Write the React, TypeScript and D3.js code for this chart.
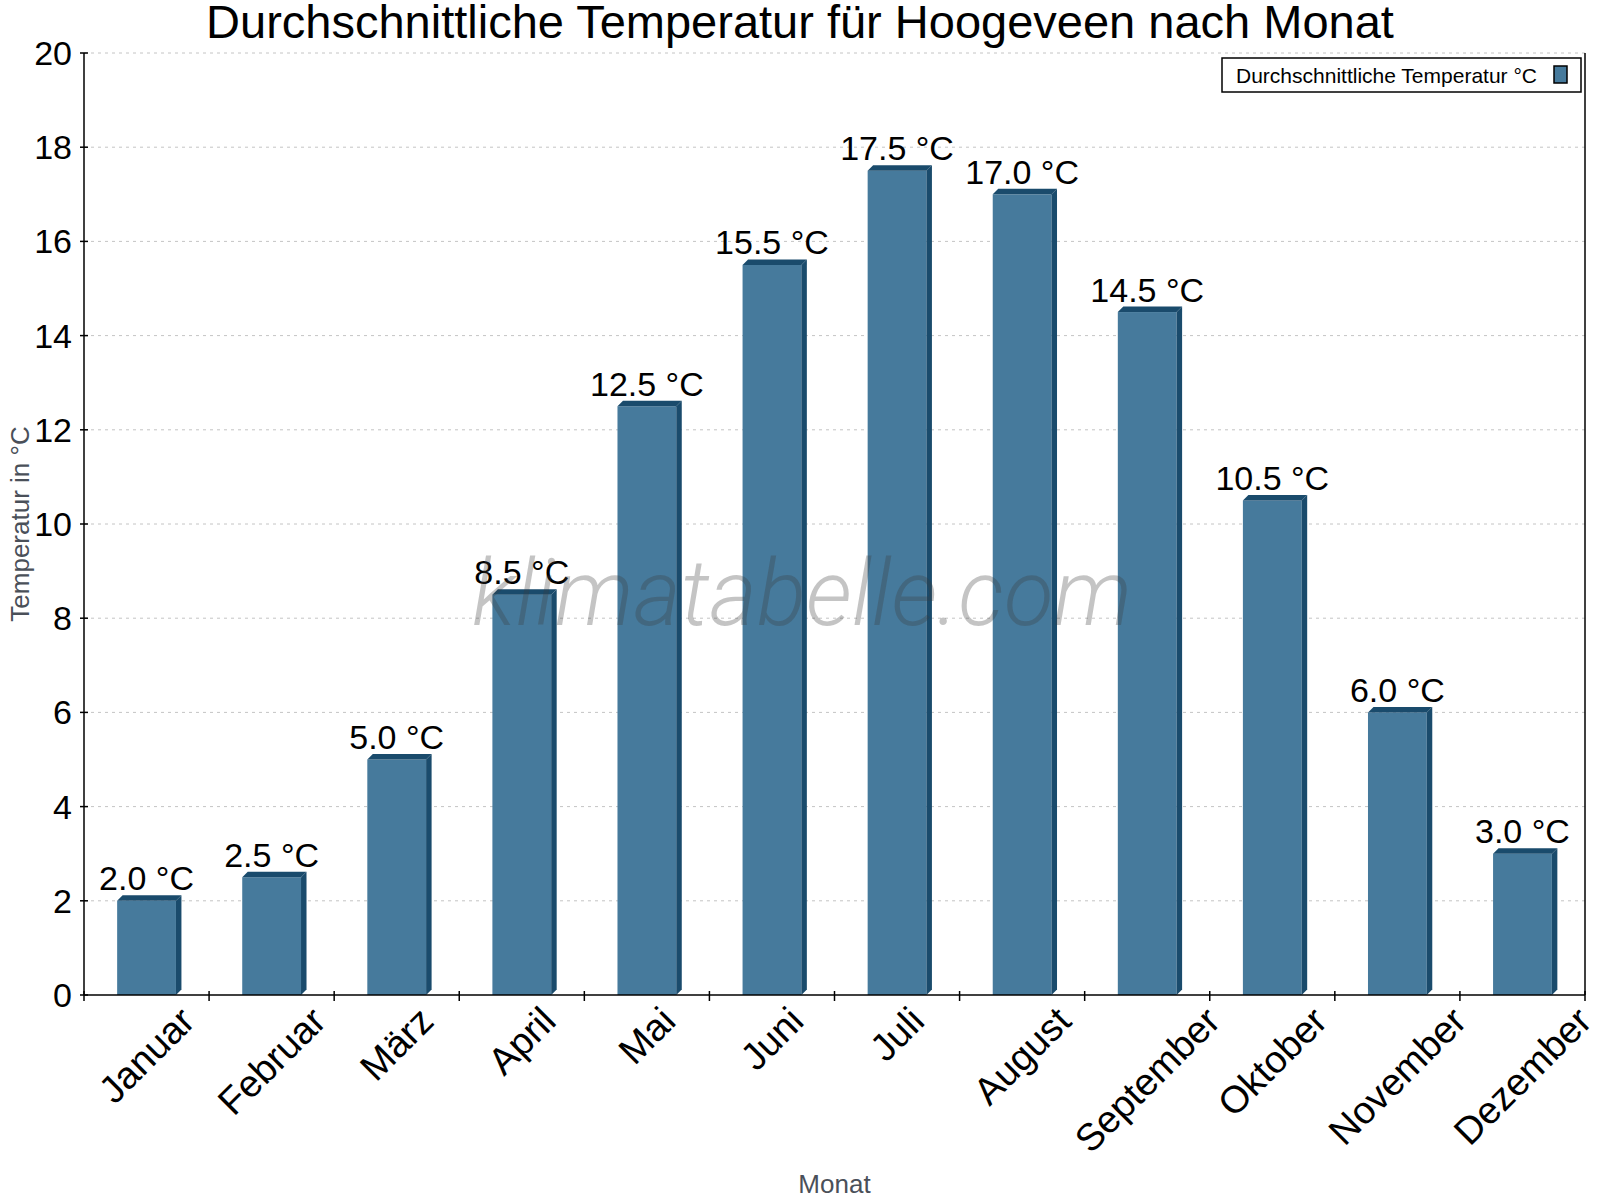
import { useEffect, useRef } from "react";
import * as d3 from "d3";

const months = [
  "Januar", "Februar", "März", "April", "Mai", "Juni",
  "Juli", "August", "September", "Oktober", "November", "Dezember",
];
const temperatures = [2.0, 2.5, 5.0, 8.5, 12.5, 15.5, 17.5, 17.0, 14.5, 10.5, 6.0, 3.0];
const yTicks = [0, 2, 4, 6, 8, 10, 12, 14, 16, 18, 20];

const title = "Durchschnittliche Temperatur für Hoogeveen nach Monat";
const seriesName = "Durchschnittliche Temperatur °C";
const yLabel = "Temperatur in °C";
const xLabel = "Monat";

const W = 1600;
const H = 1200;
const left = 84;
const right = 1585;
const top = 53;
const bottom = 995;
const depth = 5.5;
const font = "'Liberation Sans', Arial, sans-serif";
const front = "#467a9c";
const side = "#1a4b6c";

export default function App() {
  const ref = useRef<SVGSVGElement>(null);

  useEffect(() => {
    const svg = d3.select(ref.current);
    svg.selectAll("*").remove();

    const x = d3.scaleBand<string>().domain(months).range([left, right])
      .paddingInner(0.53).paddingOuter(0.265);
    const y = d3.scaleLinear().domain([0, 20]).range([bottom, top]);
    const step = (right - left) / months.length;

    // grid
    svg.append("g").selectAll("line").data(yTicks.filter((t) => t > 0)).join("line")
      .attr("x1", left).attr("x2", right)
      .attr("y1", (d) => y(d)).attr("y2", (d) => y(d))
      .attr("stroke", "#c4c4c4").attr("stroke-dasharray", "3,4");

    const bars = svg.append("g");
    temperatures.forEach((v, i) => {
      const x0 = x(months[i])!;
      const w = x.bandwidth();
      const yv = y(v);
      bars.append("rect").attr("x", x0).attr("y", yv).attr("width", w)
        .attr("height", bottom - yv).attr("fill", front);
      bars.append("polygon").attr("fill", side).attr("points", [
        [x0, yv], [x0 + depth, yv - depth], [x0 + w + depth, yv - depth], [x0 + w, yv],
      ].map((p) => p.join(",")).join(" "));
      bars.append("polygon").attr("fill", side).attr("points", [
        [x0 + w, yv], [x0 + w + depth, yv - depth], [x0 + w + depth, bottom - depth], [x0 + w, bottom],
      ].map((p) => p.join(",")).join(" "));
      bars.append("text").attr("x", x0 + w / 2).attr("y", yv - depth - 5)
        .attr("text-anchor", "middle").attr("font-family", font).attr("font-size", 34)
        .attr("fill", "#000").text(`${v.toFixed(1)} °C`);
    });

    // watermark
    svg.append("text").attr("x", 472).attr("y", 625)
      .attr("font-family", "Roboto, sans-serif").attr("font-weight", 300)
      .attr("font-style", "italic").attr("font-size", 92)
      .attr("textLength", 660).attr("lengthAdjust", "spacingAndGlyphs")
      .attr("fill", "rgba(60,60,60,0.3)").text("klimatabelle.com");

    // axes
    svg.append("line").attr("x1", left).attr("x2", left).attr("y1", top).attr("y2", bottom)
      .attr("stroke", "#000").attr("stroke-width", 1.5);
    svg.append("line").attr("x1", right).attr("x2", right).attr("y1", top).attr("y2", bottom)
      .attr("stroke", "#000").attr("stroke-width", 1.5);
    svg.append("line").attr("x1", left).attr("x2", right).attr("y1", bottom).attr("y2", bottom)
      .attr("stroke", "#000").attr("stroke-width", 1.5);

    const yg = svg.append("g");
    yg.selectAll("line").data(yTicks).join("line")
      .attr("x1", left - 4).attr("x2", left + 4)
      .attr("y1", (d) => y(d)).attr("y2", (d) => y(d)).attr("stroke", "#000").attr("stroke-width", 1.5);
    yg.selectAll("text").data(yTicks).join("text")
      .attr("x", left - 12).attr("y", (d) => y(d)).attr("dy", "0.35em")
      .attr("text-anchor", "end").attr("font-family", font).attr("font-size", 34)
      .text((d) => String(d));

    const xg = svg.append("g");
    xg.selectAll("line").data(d3.range(months.length + 1)).join("line")
      .attr("x1", (i) => left + i * step).attr("x2", (i) => left + i * step)
      .attr("y1", bottom - 4).attr("y2", bottom + 6).attr("stroke", "#000").attr("stroke-width", 1.5);

    const labelTop = 1004;
    const xfs = 38;
    months.forEach((m) => {
      const cx = x(m)! + x.bandwidth() / 2;
      const t = xg.append("text").attr("font-family", font).attr("font-size", xfs)
        .attr("text-anchor", "middle").attr("dominant-baseline", "central").text(m);
      const wText = (t.node() as SVGTextElement).getComputedTextLength();
      const hText = xfs * 0.75;
      const cy = labelTop + (wText + hText) / (2 * Math.SQRT2);
      t.attr("transform", `translate(${cx},${cy}) rotate(-45)`);
    });

    // axis titles
    svg.append("text").attr("transform", `translate(29,${(top + bottom) / 2}) rotate(-90)`)
      .attr("text-anchor", "middle").attr("font-family", font).attr("font-size", 26)
      .attr("fill", "#4a5059").text(yLabel);
    svg.append("text").attr("x", (left + right) / 2).attr("y", 1193)
      .attr("text-anchor", "middle").attr("font-family", font).attr("font-size", 26)
      .attr("fill", "#4a5059").text(xLabel);

    // title
    svg.append("text").attr("x", W / 2).attr("y", 38).attr("text-anchor", "middle")
      .attr("font-family", font).attr("font-size", 47).text(title);

    // legend
    const lg = svg.append("g");
    lg.append("rect").attr("x", 1222).attr("y", 58).attr("width", 359).attr("height", 34)
      .attr("fill", "#fff").attr("stroke", "#000").attr("stroke-width", 1.5);
    lg.append("text").attr("x", 1236).attr("y", 83).attr("font-family", font)
      .attr("font-size", 21).text(seriesName);
    lg.append("rect").attr("x", 1554).attr("y", 66).attr("width", 13).attr("height", 17)
      .attr("fill", front).attr("stroke", "#000").attr("stroke-width", 1.5);
  }, []);

  return (
    <svg
      ref={ref}
      width={W}
      height={H}
      viewBox={`0 0 ${W} ${H}`}
      style={{ position: "absolute", left: 0, top: 0, background: "#fff" }}
    />
  );
}
